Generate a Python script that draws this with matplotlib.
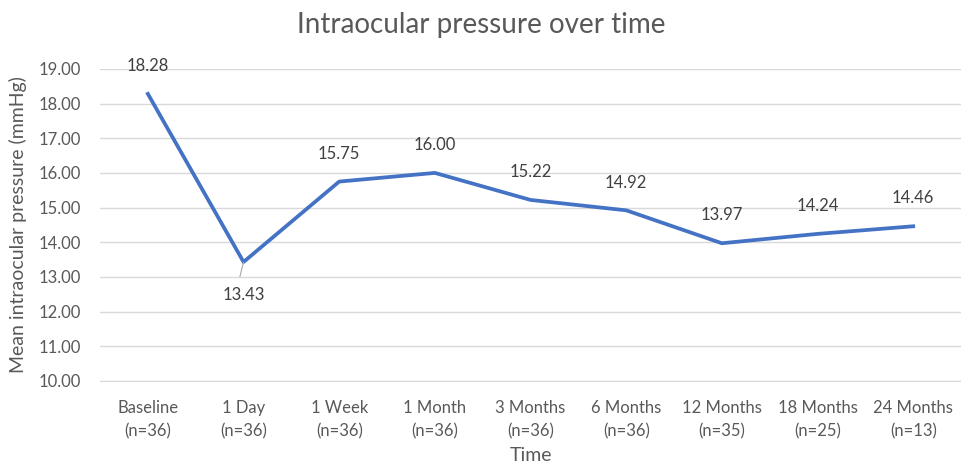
import matplotlib.pyplot as plt

categories = ["Baseline\n(n=36)", "1 Day\n(n=36)", "1 Week\n(n=36)", "1 Month\n(n=36)",
              "3 Months\n(n=36)", "6 Months\n(n=36)", "12 Months\n(n=35)",
              "18 Months\n(n=25)", "24 Months\n(n=13)"]
iop = [18.28, 13.43, 15.75, 16.00, 15.22, 14.92, 13.97, 14.24, 14.46]

plt.rcParams['font.family'] = ['Lato', 'DejaVu Sans']
text_col = "#595959"

fig = plt.figure(figsize=(9.62, 4.69), dpi=100)
ax = fig.add_axes([0.104, 0.188, 0.895, 0.665])

x = list(range(len(iop)))
ax.plot(x, iop, color="#4472C4", lw=2.7, solid_joinstyle="round")

for i, v in enumerate(iop):
    if i == 1:
        ax.annotate(f"{v:.2f}", (i, v), xytext=(0, -24), textcoords="offset points",
                    ha="center", va="center", fontsize=12, color="#404040",
                    arrowprops=dict(arrowstyle="-", color="#a6a6a6", lw=0.8,
                                    shrinkA=6, shrinkB=0, relpos=(0.35, 1.0)))
    else:
        ax.annotate(f"{v:.2f}", (i, v), xytext=(0, 20), textcoords="offset points",
                    ha="center", va="center", fontsize=12, color="#404040")

ax.set_xlim(-0.5, len(iop) - 0.5)
ax.set_ylim(10, 19)
ax.set_yticks(range(10, 20))
ax.set_yticklabels([f"{t:.2f}" for t in range(10, 20)])
ax.set_xticks(x)
ax.set_xticklabels(categories, linespacing=1.5)
ax.grid(axis="y", color="#d9d9d9", lw=1)
ax.set_axisbelow(True)
for s in ["top", "right", "left"]:
    ax.spines[s].set_visible(False)
ax.spines["bottom"].set_color("#d9d9d9")
ax.tick_params(length=0, labelsize=12, colors=text_col, pad=14)
ax.tick_params(axis="y", pad=14)

ax.set_ylabel("Mean intraocular pressure (mmHg)", fontsize=14, color=text_col, labelpad=8)
ax.set_xlabel("Time", fontsize=14, color=text_col, labelpad=6)
fig.suptitle("Intraocular pressure over time", fontsize=20, color=text_col, y=0.975)

fig.savefig("out.png", dpi=100)
